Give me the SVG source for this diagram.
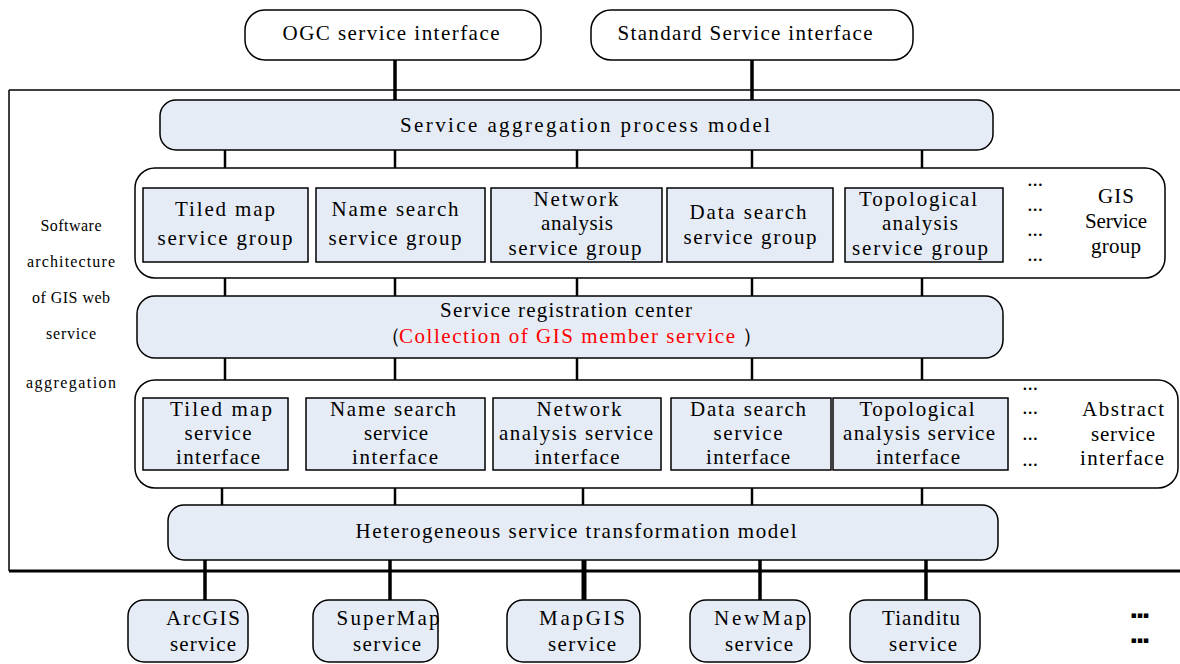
<svg xmlns="http://www.w3.org/2000/svg" width="1180" height="664" viewBox="0 0 1180 664" font-family="'Liberation Serif', 'Times New Roman', serif">
<style>
text{font-family:"Liberation Serif","Times New Roman",serif;font-size:21px;fill:#000}
.sm{font-size:16px}
.red{fill:#ff0000}
.rb{fill:#e6ecf6;stroke:#000;stroke-width:1.5}
.wb{fill:#fff;stroke:#000;stroke-width:1.5}
.sq{fill:#e6ecf6;stroke:#000;stroke-width:1.5}
.c{stroke:#000;stroke-width:2.5;fill:none}
.ct{stroke:#000;stroke-width:3.5;fill:none}
</style>
<rect width="1180" height="664" fill="#fff"/>
<g id="frame">
<line x1="9" y1="90" x2="1180" y2="90" stroke="#000" stroke-width="1.5"/>
<line x1="9" y1="90" x2="9" y2="571" stroke="#000" stroke-width="1.5"/>
<line x1="9" y1="571" x2="1180" y2="571" stroke="#000" stroke-width="3"/>
</g>
<g id="connectors">
<line class="ct" x1="395" y1="60" x2="395" y2="100"/>
<line class="ct" x1="752" y1="60" x2="752" y2="100"/>
<line class="c" x1="225" y1="150" x2="225" y2="188"/>
<line class="c" x1="395" y1="150" x2="395" y2="188"/>
<line class="c" x1="577" y1="150" x2="577" y2="188"/>
<line class="c" x1="752" y1="150" x2="752" y2="188"/>
<line class="c" x1="922" y1="150" x2="922" y2="188"/>
<line class="c" x1="225" y1="262" x2="225" y2="296"/>
<line class="c" x1="395" y1="262" x2="395" y2="296"/>
<line class="c" x1="577" y1="262" x2="577" y2="296"/>
<line class="c" x1="752" y1="262" x2="752" y2="296"/>
<line class="c" x1="922" y1="262" x2="922" y2="296"/>
<line class="c" x1="225" y1="358" x2="225" y2="398"/>
<line class="c" x1="395" y1="358" x2="395" y2="398"/>
<line class="c" x1="577" y1="358" x2="577" y2="398"/>
<line class="c" x1="752" y1="358" x2="752" y2="398"/>
<line class="c" x1="922" y1="358" x2="922" y2="398"/>
<line class="c" x1="222" y1="470" x2="222" y2="505"/>
<line class="c" x1="395" y1="470" x2="395" y2="505"/>
<line class="c" x1="583" y1="470" x2="583" y2="505"/>
<line class="c" x1="752" y1="470" x2="752" y2="505"/>
<line class="c" x1="922" y1="470" x2="922" y2="505"/>
<line class="ct" x1="205" y1="560" x2="205" y2="600"/>
<line class="ct" x1="390" y1="560" x2="390" y2="600"/>
<line stroke="#000" stroke-width="5" x1="584" y1="560" x2="584" y2="600"/>
<line class="ct" x1="760" y1="560" x2="760" y2="600"/>
<line class="ct" x1="926" y1="560" x2="926" y2="600"/>
</g>
<g id="ogc"><rect class="wb" x="245" y="10" width="296" height="50" rx="20"/><text x="391" y="40" text-anchor="middle" textLength="217">OGC service interface</text></g>
<g id="standard"><rect class="wb" x="591" y="10" width="322" height="50" rx="20"/><text x="745" y="40" text-anchor="middle" textLength="255">Standard Service interface</text></g>
<g id="labels-left">
<text class="sm" x="71" y="231" text-anchor="middle" textLength="61">Software</text>
<text class="sm" x="71" y="267" text-anchor="middle" textLength="88">architecture</text>
<text class="sm" x="71" y="303" text-anchor="middle" textLength="78">of GIS web</text>
<text class="sm" x="71" y="339" text-anchor="middle" textLength="50">service</text>
<text class="sm" x="71" y="388" text-anchor="middle" textLength="90">aggregation</text>
</g>
<g id="aggregation"><rect class="rb" x="160" y="100" width="833" height="50" rx="16"/><text x="585" y="132" text-anchor="middle" textLength="370">Service aggregation process model</text></g>
<g id="gis-service-group">
<rect class="wb" x="135" y="168" width="1030" height="110" rx="20"/>
<text x="1035" y="186" text-anchor="middle">...</text>
<text x="1035" y="211" text-anchor="middle">...</text>
<text x="1035" y="236" text-anchor="middle">...</text>
<text x="1035" y="261" text-anchor="middle">...</text>
<text x="1116" y="203" text-anchor="middle" textLength="36">GIS</text>
<text x="1116" y="228" text-anchor="middle" textLength="62">Service</text>
<text x="1116" y="253" text-anchor="middle" textLength="50">group</text>
</g>
<g id="tiled-group"><rect class="sq" x="143" y="188" width="165" height="74"/><text x="225" y="216" text-anchor="middle" textLength="100">Tiled map</text><text x="225" y="245" text-anchor="middle" textLength="135">service group</text></g>
<g id="name-group"><rect class="sq" x="316" y="188" width="169" height="74"/><text x="395" y="216" text-anchor="middle" textLength="127">Name search</text><text x="395" y="245" text-anchor="middle" textLength="133">service group</text></g>
<g id="network-group"><rect class="sq" x="491" y="188" width="171" height="74"/><text x="576" y="206" text-anchor="middle" textLength="85">Network</text><text x="577" y="230" text-anchor="middle" textLength="72">analysis</text><text x="575" y="255" text-anchor="middle" textLength="133">service group</text></g>
<g id="data-group"><rect class="sq" x="667" y="188" width="166" height="74"/><text x="748" y="219" text-anchor="middle" textLength="117">Data search</text><text x="750" y="244" text-anchor="middle" textLength="133">service group</text></g>
<g id="topo-group"><rect class="sq" x="845" y="188" width="158" height="74"/><text x="918" y="206" text-anchor="middle" textLength="118">Topological</text><text x="920" y="230" text-anchor="middle" textLength="76">analysis</text><text x="920" y="255" text-anchor="middle" textLength="136">service group</text></g>
<g id="registration"><rect class="rb" x="137" y="296" width="866" height="62" rx="18"/>
<text x="566" y="317" text-anchor="middle" textLength="252">Service registration center</text>
<text x="390" y="343" text-anchor="middle">（</text>
<text class="red" x="567" y="343" text-anchor="middle" textLength="336">Collection of GIS member service</text>
<text x="752" y="343" text-anchor="middle">）</text>
</g>
<g id="abstract-interface">
<rect class="wb" x="135" y="380" width="1043" height="108" rx="20"/>
<text x="1030" y="390" text-anchor="middle">...</text>
<text x="1030" y="414" text-anchor="middle">...</text>
<text x="1030" y="440" text-anchor="middle">...</text>
<text x="1030" y="466" text-anchor="middle">...</text>
<text x="1123" y="416" text-anchor="middle" textLength="82">Abstract</text>
<text x="1123" y="441" text-anchor="middle" textLength="64">service</text>
<text x="1122" y="465" text-anchor="middle" textLength="84">interface</text>
</g>
<g id="tiled-if"><rect class="sq" x="143" y="398" width="145" height="72"/><text x="221" y="416" text-anchor="middle" textLength="102">Tiled map</text><text x="218" y="440" text-anchor="middle" textLength="67">service</text><text x="218" y="464" text-anchor="middle" textLength="84">interface</text></g>
<g id="name-if"><rect class="sq" x="306" y="398" width="179" height="72"/><text x="393" y="416" text-anchor="middle" textLength="126">Name search</text><text x="396" y="440" text-anchor="middle" textLength="64">service</text><text x="395" y="464" text-anchor="middle" textLength="86">interface</text></g>
<g id="network-if"><rect class="sq" x="493" y="398" width="168" height="72"/><text x="579" y="416" text-anchor="middle" textLength="85">Network</text><text x="576" y="440" text-anchor="middle" textLength="154">analysis service</text><text x="577" y="464" text-anchor="middle" textLength="85">interface</text></g>
<g id="data-if"><rect class="sq" x="671" y="398" width="160" height="72"/><text x="748" y="416" text-anchor="middle" textLength="116">Data search</text><text x="748" y="440" text-anchor="middle" textLength="69">service</text><text x="748" y="464" text-anchor="middle" textLength="84">interface</text></g>
<g id="topo-if"><rect class="sq" x="833" y="398" width="175" height="72"/><text x="917" y="416" text-anchor="middle" textLength="115">Topological</text><text x="919" y="440" text-anchor="middle" textLength="152">analysis service</text><text x="918" y="464" text-anchor="middle" textLength="84">interface</text></g>
<g id="heterogeneous"><rect class="rb" x="168" y="505" width="830" height="55" rx="16"/><text x="576" y="538" text-anchor="middle" textLength="441">Heterogeneous service transformation model</text></g>
<g id="arcgis"><rect class="rb" x="128" y="600" width="120" height="62" rx="16"/><text x="203" y="625" text-anchor="middle" textLength="74">ArcGIS</text><text x="203" y="651" text-anchor="middle" textLength="66">service</text></g>
<g id="supermap"><rect class="rb" x="313" y="600" width="125" height="62" rx="16"/><text x="388" y="625" text-anchor="middle" textLength="103">SuperMap</text><text x="387" y="651" text-anchor="middle" textLength="68">service</text></g>
<g id="mapgis"><rect class="rb" x="507" y="600" width="133" height="62" rx="16"/><text x="582" y="625" text-anchor="middle" textLength="86">MapGIS</text><text x="582" y="651" text-anchor="middle" textLength="68">service</text></g>
<g id="newmap"><rect class="rb" x="690" y="600" width="120" height="62" rx="16"/><text x="760" y="625" text-anchor="middle" textLength="92">NewMap</text><text x="759" y="651" text-anchor="middle" textLength="68">service</text></g>
<g id="tianditu"><rect class="rb" x="850" y="600" width="130" height="62" rx="16"/><text x="921" y="625" text-anchor="middle" textLength="78">Tianditu</text><text x="923" y="651" text-anchor="middle" textLength="68">service</text></g>
<g id="more">
<text x="1140" y="618" text-anchor="middle" style="font-family:'DejaVu Sans',sans-serif;font-size:9px">▪▪▪</text>
<text x="1140" y="643" text-anchor="middle" style="font-family:'DejaVu Sans',sans-serif;font-size:9px">▪▪▪</text>
</g>
</svg>
